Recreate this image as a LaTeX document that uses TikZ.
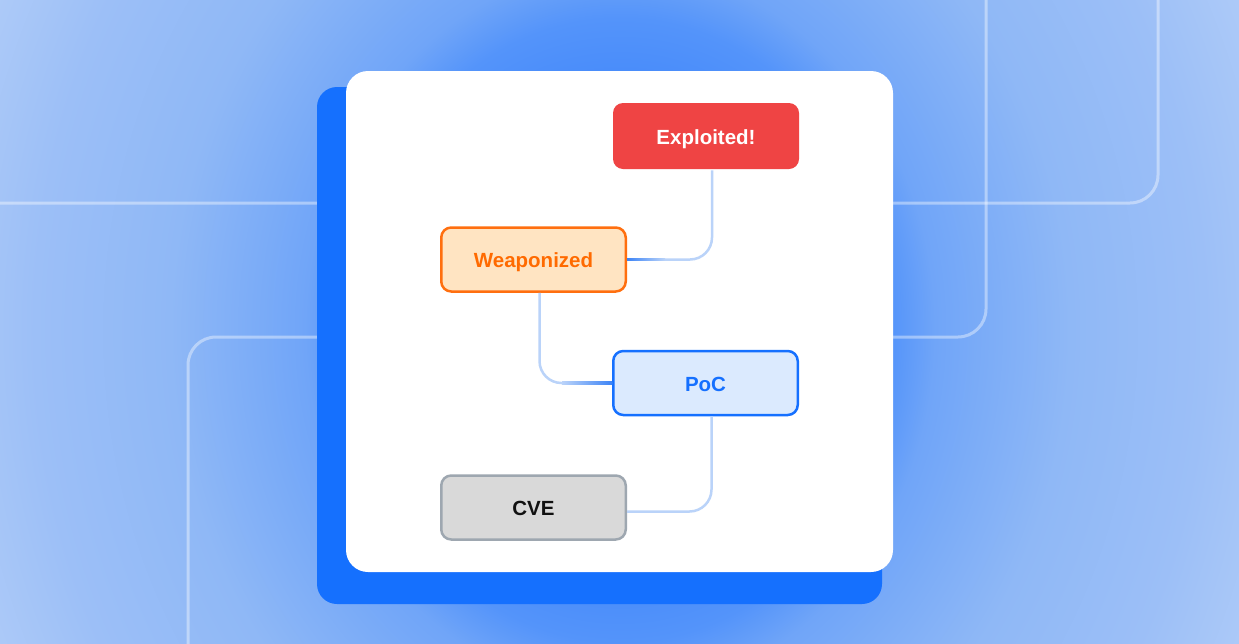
\documentclass[tikz,border=0pt]{standalone}
\usepackage{fontspec}
\setmainfont{Liberation Sans}
\usetikzlibrary{calc}
\definecolor{bga}{HTML}{4A8DFA}
\definecolor{bgb}{HTML}{5494FA}
\definecolor{bgc}{HTML}{70A5F8}
\definecolor{bgd}{HTML}{8FB8F6}
\definecolor{bge}{HTML}{9CBFF7}
\definecolor{bgf}{HTML}{B3CEF8}
\definecolor{bgg}{HTML}{B8D1F8}
\definecolor{cardblue}{HTML}{1570FE}
\definecolor{connc}{HTML}{BAD3F9}
\definecolor{connblue}{HTML}{3D84F6}
\definecolor{exfill}{HTML}{EF4444}
\definecolor{wefill}{HTML}{FFE4C2}
\definecolor{wedraw}{HTML}{FF6F0F}
\definecolor{wetext}{HTML}{FF6A00}
\definecolor{pofill}{HTML}{DBEAFE}
\definecolor{podraw}{HTML}{1570FF}
\definecolor{cvfill}{HTML}{D9D9D9}
\definecolor{cvdraw}{HTML}{9EA7B0}
\definecolor{cvtext}{HTML}{111111}
\pgfdeclareradialshading{bgshade}{\pgfpoint{0bp}{0bp}}{color(0bp)=(bga); color(6.25bp)=(bga); color(7.5bp)=(bgb); color(8.75bp)=(bgc); color(12.5bp)=(bgd); color(16.25bp)=(bge); color(20bp)=(bgf); color(25bp)=(bgg); color(50bp)=(bgg)}
\begin{document}
\begin{tikzpicture}[x=1pt,y=-1pt,
  nodebox/.style={rounded corners=10pt, minimum width=184.5pt, minimum height=64pt, line width=2.5pt, inner sep=0pt, text height=16pt, text depth=0pt, font=\fontsize{20.5}{24}\selectfont\bfseries},
  conn/.style={draw=connc, line width=2.5pt, rounded corners=22pt},
  deco/.style={draw=white, draw opacity=0.4, line width=3pt, rounded corners=28pt}]
\useasboundingbox (0,0) rectangle (1239,643);
% background
\begin{scope}
\clip (0,0) rectangle (1239,643);
\fill[bgg] (0,0) rectangle (1239,643);
\shade[shading=bgshade] (620,330) ellipse (900 and 1040);
\draw[deco] (986,-10) -- (986,337) -- (188,337) -- (188,660);
\draw[deco] (-10,203) -- (1158,203) -- (1158,-10);
\end{scope}
% cards
\fill[cardblue, rounded corners=20pt] (317,87) rectangle (882,604);
\fill[white, rounded corners=22pt] (346,71) rectangle (893,572);
% nodes
\node[nodebox, fill=exfill, text=white, minimum width=186pt, minimum height=66pt] (E) at (706,136) {Exploited!};
\node[nodebox, fill=wefill, draw=wedraw, text=wetext] (W) at (533.5,259.5) {Weaponized};
\node[nodebox, fill=pofill, draw=podraw, text=podraw] (P) at (705.5,383) {PoC};
\node[nodebox, fill=cvfill, draw=cvdraw, text=cvtext] (C) at (533.5,507.5) {CVE};
% connectors
\draw[conn] ([xshift=6pt]E.south) |- (W.east);
\draw[conn] ([xshift=6pt]W.south) |- (P.west);
\draw[conn] ([xshift=6pt]P.south) |- ([yshift=-4pt]C.east);
\shade[left color=connblue, right color=connc] ([yshift=1.25pt]W.east) rectangle ++(38,2.5);
\shade[left color=connc, right color=connblue] ([xshift=-50pt,yshift=1.25pt]P.west) rectangle ++(50,2.5);
\end{tikzpicture}
\end{document}
